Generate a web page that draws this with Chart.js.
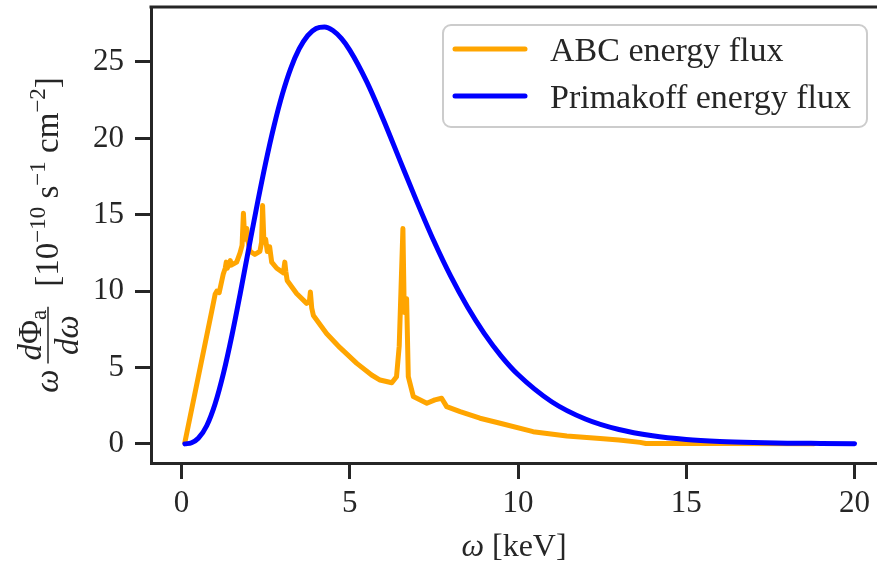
<!DOCTYPE html>
<html lang="en">
<head>
<meta charset="UTF-8">
<title>ABC and Primakoff energy flux</title>
<script src="https://cdn.jsdelivr.net/npm/chart.js"></script>
<style>
    html, body {
        margin: 0;
        padding: 0;
        background: #fff;
        overflow: hidden;
    }
    #wrap {
        width: 877px;
        height: 566px;
    }
</style>
</head>
<body>
<div id="wrap"><canvas id="fluxChart" width="877" height="566"></canvas></div>
<script>
// ABC flux: photon energy [keV] and omega*dPhi/domega [1e-10 s^-1 cm^-2]
const abcEnergy = [0.1, 0.5, 0.9, 1.0, 1.05, 1.12, 1.24, 1.30, 1.33, 1.36, 1.42, 1.45, 1.48, 1.64, 1.74, 1.80,
    1.84, 1.88, 1.94, 1.98, 2.04, 2.18, 2.33, 2.38, 2.41, 2.45, 2.50, 2.55, 2.62, 2.68, 2.83, 3.03,
    3.07, 3.10, 3.14, 3.42, 3.72, 3.80, 3.83, 3.87, 3.92, 4.31, 4.71, 5.21, 5.65, 5.90, 6.25, 6.39,
    6.47, 6.58, 6.62, 6.69, 6.74, 6.89, 7.29, 7.53, 7.73, 7.88, 8.28, 8.87, 9.47, 10.45, 11.45, 12.44,
    13.0, 13.63, 13.8, 16.0, 18.8];
const abcFlux = [0.1, 4.4, 8.7, 9.8, 10.0, 9.9, 11.1, 11.5, 11.9, 11.5, 11.8, 12.0, 11.7, 11.9, 12.5, 13.0,
    15.1, 13.4, 14.1, 13.2, 12.6, 12.4, 12.6, 13.2, 15.6, 13.2, 13.4, 12.6, 12.9, 11.9, 11.5, 11.2,
    11.9, 11.3, 10.7, 9.85, 9.2, 9.3, 9.95, 8.9, 8.4, 7.23, 6.3, 5.27, 4.51, 4.18, 4.0, 4.4,
    6.4, 14.1, 8.6, 9.5, 4.4, 3.1, 2.66, 2.88, 2.99, 2.44, 2.11, 1.68, 1.35, 0.80, 0.52, 0.35,
    0.25, 0.10, 0.03, 0.02, 0.01];

// Primakoff flux on the same axes
const primEnergy = [0.1, 0.3, 0.5, 0.75, 1, 1.25, 1.5, 1.75, 2, 2.25, 2.5, 2.75, 3, 3.25, 3.5, 3.75,
    4, 4.25, 4.5, 4.75, 5, 5.5, 6, 6.5, 7, 7.5, 8, 8.5, 9, 9.5, 10, 11, 12, 13, 14, 15, 16, 17, 18, 19, 20];
const primFlux = [0.0, 0.08, 0.37, 1.19, 2.63, 4.65, 7.12, 9.9, 12.81, 15.68, 18.39, 20.82, 22.91, 24.6, 25.87, 26.73,
    27.2, 27.29, 27.06, 26.54, 25.78, 23.73, 21.22, 18.51, 15.83, 13.28, 10.98, 8.96, 7.22, 5.75, 4.54, 2.76,
    1.63, 0.94, 0.53, 0.29, 0.16, 0.09, 0.05, 0.03, 0.01];

const seriesNames = ['ABC energy flux', 'Primakoff energy flux'];
const seriesColors = ['#ffa500', '#0000ff'];

const SERIF = '"Liberation Serif", "DejaVu Serif", serif';
const INK = '#262626';

function toPoints(xs, ys) {
    return xs.map((x, i) => ({ x: x, y: ys[i] }));
}

function textWidth(c, font, s) {
    c.font = font;
    return c.measureText(s).width;
}

// omega dPhi_a/domega [10^-10 s^-1 cm^-2], written bottom to top
function drawYTitle(c, cx, cy) {
    const fs = 33;
    const fItal = 'italic ' + fs + 'px ' + SERIF;
    const fRom = fs + 'px ' + SERIF;
    const fSmall = '23px ' + SERIF;
    const unit = [
        [fRom, '[10', 0], [fSmall, '\u221210', -13], [fRom, ' s', 0], [fSmall, '\u22121', -13],
        [fRom, ' cm', 0], [fSmall, '\u22122', -13], [fRom, ']', 0]
    ];
    c.save();
    c.translate(cx, cy);
    c.rotate(-Math.PI / 2);
    c.fillStyle = INK;
    c.strokeStyle = INK;
    c.textAlign = 'left';
    c.textBaseline = 'alphabetic';

    const omegaW = textWidth(c, fItal, '\u03c9');
    const numW = textWidth(c, fItal, 'd') + textWidth(c, fRom, '\u03a6') + textWidth(c, fSmall, 'a');
    const denW = textWidth(c, fItal, 'd\u03c9');
    const fracW = Math.max(numW, denW) + 6;
    const unitW = unit.reduce((s, p) => s + textWidth(c, p[0], p[1]), 0);
    const gapA = 6, gapB = 20;
    let u = -(omegaW + gapA + fracW + gapB + unitW) / 2;

    c.font = fItal;
    c.fillText('\u03c9', u, 0);
    u += omegaW + gapA;

    let nu = u + (fracW - numW) / 2;
    c.font = fItal;
    c.fillText('d', nu, -17);
    nu += c.measureText('d').width;
    c.font = fRom;
    c.fillText('\u03a6', nu, -17);
    nu += c.measureText('\u03a6').width;
    c.font = fSmall;
    c.fillText('a', nu, -12);
    c.font = fItal;
    c.fillText('d\u03c9', u + (fracW - denW) / 2, 20);
    c.lineWidth = 1.5;
    c.beginPath();
    c.moveTo(u, -10);
    c.lineTo(u + fracW, -10);
    c.stroke();
    u += fracW + gapB;

    unit.forEach(p => {
        c.font = p[0];
        c.fillText(p[1], u, p[2]);
        u += c.measureText(p[1]).width;
    });
    c.restore();
}

// top spine, axis titles and the framed legend
const decorations = {
    id: 'decorations',
    afterDraw(chart) {
        const c = chart.ctx;
        const area = chart.chartArea;
        c.save();

        c.strokeStyle = INK;
        c.lineWidth = 3;
        c.beginPath();
        c.moveTo(area.left - 1.5, area.top);
        c.lineTo(area.right, area.top);
        c.stroke();

        // x title
        const fI = 'italic 32px ' + SERIF, fR = '32px ' + SERIF;
        const wO = textWidth(c, fI, '\u03c9'), wR = textWidth(c, fR, ' [keV]');
        const x0 = (area.left + area.right) / 2 - (wO + wR) / 2;
        c.fillStyle = INK;
        c.textBaseline = 'alphabetic';
        c.font = fI;
        c.fillText('\u03c9', x0, 556);
        c.font = fR;
        c.fillText(' [keV]', x0 + wO, 556);

        drawYTitle(c, 58, (area.top + area.bottom) / 2);

        // legend
        c.beginPath();
        c.roundRect(443, 25, 424, 102, 8);
        c.fillStyle = 'rgba(255,255,255,0.8)';
        c.fill();
        c.strokeStyle = '#cccccc';
        c.lineWidth = 2;
        c.stroke();
        c.lineCap = 'round';
        c.lineWidth = 5;
        c.font = '34px ' + SERIF;
        seriesNames.forEach((name, i) => {
            const y = 49 + i * 47;
            c.strokeStyle = seriesColors[i];
            c.beginPath();
            c.moveTo(455, y);
            c.lineTo(525, y);
            c.stroke();
            c.fillStyle = INK;
            c.fillText(name, 550, y + 12);
        });
        c.restore();
    }
};

const tickFont = { family: SERIF, size: 31 };
const ctx = document.getElementById('fluxChart').getContext('2d');

new Chart(ctx, {
    type: 'line',
    data: {
        datasets: [{
            label: seriesNames[0],
            data: toPoints(abcEnergy, abcFlux),
            borderColor: seriesColors[0],
            borderWidth: 5,
            borderJoinStyle: 'round',
            borderCapStyle: 'round',
            pointRadius: 0,
            tension: 0,
            order: 2
        }, {
            label: seriesNames[1],
            data: toPoints(primEnergy, primFlux),
            borderColor: seriesColors[1],
            borderWidth: 5,
            borderCapStyle: 'round',
            pointRadius: 0,
            cubicInterpolationMode: 'monotone',
            order: 1
        }]
    },
    options: {
        responsive: false,
        animation: false,
        devicePixelRatio: 1,
        layout: { padding: { top: 7, right: 0, bottom: 0, left: 0 } },
        plugins: {
            legend: { display: false },
            tooltip: { enabled: false }
        },
        scales: {
            x: {
                type: 'linear',
                min: -0.906,
                max: 20.668,
                grid: { drawOnChartArea: false, drawTicks: true, tickLength: 16, tickWidth: 3, tickColor: INK },
                border: { display: true, color: INK, width: 3 },
                ticks: { stepSize: 5, includeBounds: false, padding: 6, color: INK, font: tickFont, maxRotation: 0 },
                afterFit(scale) {
                    scale.height = 103;
                    scale.paddingLeft = 0;
                    scale.paddingRight = 0;
                }
            },
            y: {
                min: -1.25,
                max: 28.6,
                grid: { drawOnChartArea: false, drawTicks: true, tickLength: 16, tickWidth: 3, tickColor: INK },
                border: { display: true, color: INK, width: 3 },
                ticks: { stepSize: 5, includeBounds: false, padding: 11, color: INK, font: tickFont },
                afterFit(scale) {
                    scale.width = 151;
                    scale.paddingTop = 0;
                    scale.paddingBottom = 0;
                }
            }
        }
    },
    plugins: [decorations]
});
</script>
</body>
</html>
